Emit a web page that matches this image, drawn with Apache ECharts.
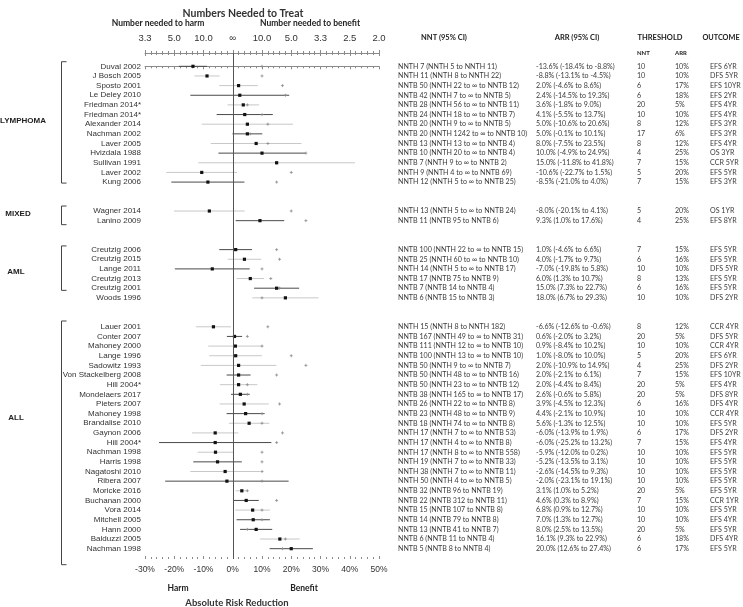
<!DOCTYPE html>
<html><head><meta charset="utf-8">
<script src="https://cdn.jsdelivr.net/npm/echarts@6/dist/echarts.min.js"></script>
<style>html,body{margin:0;padding:0;background:#fff}#c{width:743px;height:607px}</style>
</head><body><div id="c"></div><script>
// ---------------- DATA ----------------
const groupNames = ["LYMPHOMA", "MIXED", "AML", "ALL"];
const groupSizes = [13, 2, 6, 24];
const groupGap = 2;

const studies = [
 "Duval 2002","J Bosch 2005","Sposto 2001","Le Deley 2010","Friedman 2014*","Friedman 2014*","Alexander 2014","Nachman 2002","Laver 2005","Hvizdala 1988","Sullivan 1991","Laver 2002","Kung 2006",
 "Wagner 2014","Lanino 2009",
 "Creutzig 2006","Creutzig 2015","Lange 2011","Creutzig 2013","Creutzig 2001","Woods 1996",
 "Lauer 2001","Conter 2007","Mahoney 2000","Lange 1996","Sadowitz 1993","Von Stackelberg 2008","Hill 2004*","Mondelaers 2017","Pieters 2007","Mahoney 1998","Brandalise 2010","Gaynon 2006","Hill 2004*","Nachman 1998","Harris 1998","Nagatoshi 2010","Ribera 2007","Moricke 2016","Buchanan 2000","Vora 2014","Mitchell 2005","Hann 2000","Balduzzi 2005","Nachman 1998"
];
const arrEst = [-13.6,-8.8,2.0,2.4,3.6,4.1,5.0,5.0,8.0,10.0,15.0,-10.6,-8.5,
 -8.0,9.3,
 1.0,4.0,-7.0,6.0,15.0,18.0,
 -6.6,0.6,0.9,1.0,2.0,2.0,2.0,2.6,3.9,4.4,5.6,-6.0,-6.0,-5.9,-5.2,-2.6,-2.0,3.1,4.6,6.8,7.0,8.0,16.1,20.0];
const arrLo = [-18.4,-13.1,-4.6,-14.5,-1.8,-5.5,-10.6,-0.1,-7.5,-4.9,-11.8,-22.7,-21.0,
 -20.1,1.0,
 -4.6,-1.7,-19.8,1.3,7.3,6.7,
 -12.6,-2.0,-8.4,-8.0,-10.9,-2.1,-4.4,-0.6,-4.5,-2.1,-1.3,-13.9,-25.2,-12.0,-13.5,-14.5,-23.1,1.0,0.3,0.9,1.3,2.5,9.3,12.6];
const arrHi = [-8.8,-4.5,8.6,19.3,9.0,13.7,20.6,10.1,23.5,24.9,41.8,1.5,4.0,
 4.1,17.6,
 6.6,9.7,5.8,10.7,22.7,29.3,
 -0.6,3.2,10.2,10.0,14.9,6.1,8.4,5.8,12.3,10.9,12.5,1.9,13.2,0.2,3.1,9.3,19.1,5.2,8.9,12.7,12.7,13.5,22.9,27.4];
const thrNNT = [10,10,6,6,20,10,8,17,8,4,7,5,7,
 5,4,
 7,6,10,8,6,10,
 8,20,10,5,4,7,20,20,6,10,10,6,7,10,10,10,10,20,7,10,10,20,6,6];
const thrARR = [10,10,17,18,5,10,12,6,12,25,15,20,15,
 20,25,
 15,16,10,13,16,10,
 12,5,10,20,25,15,5,5,16,10,10,17,15,10,10,10,10,5,15,10,10,5,18,17];
const nntText = [
 "NNTH 7 (NNTH 5 to NNTH 11)","NNTH 11 (NNTH 8 to NNTH 22)","NNTB 50 (NNTH 22 to ∞ to NNTB 12)","NNTB 42 (NNTH 7 to ∞ to NNTB 5)","NNTB 28 (NNTH 56 to ∞ to NNTB 11)","NNTB 24 (NNTH 18 to ∞ to NNTB 7)","NNTB 20 (NNTH 9 to ∞ to NNTB 5)","NNTB 20 (NNTH 1242 to ∞ to NNTB 10)","NNTB 13 (NNTH 13 to ∞ to NNTB 4)","NNTB 10 (NNTH 20 to ∞ to NNTB 4)","NNTB 7 (NNTH 9 to ∞ to NNTB 2)","NNTH 9 (NNTH 4 to ∞ to NNTB 69)","NNTH 12 (NNTH 5 to ∞ to NNTB 25)",
 "NNTH 13 (NNTH 5 to ∞ to NNTB 24)","NNTB 11 (NNTB 95 to NNTB 6)",
 "NNTB 100 (NNTH 22 to ∞ to NNTB 15)","NNTB 25 (NNTH 60 to ∞ to NNTB 10)","NNTH 14 (NNTH 5 to ∞ to NNTB 17)","NNTB 17 (NNTB 75 to NNTB 9)","NNTB 7 (NNTB 14 to NNTB 4)","NNTB 6 (NNTB 15 to NNTB 3)",
 "NNTH 15 (NNTH 8 to NNTH 182)","NNTB 167 (NNTH 49 to ∞ to NNTB 31)","NNTB 111 (NNTH 12 to ∞ to NNTB 10)","NNTB 100 (NNTH 13 to ∞ to NNTB 10)","NNTB 50 (NNTH 9 to ∞ to NNTB 7)","NNTB 50 (NNTH 48 to ∞ to NNTB 16)","NNTB 50 (NNTH 23 to ∞ to NNTB 12)","NNTB 38 (NNTH 165 to ∞ to NNTB 17)","NNTB 26 (NNTH 22 to ∞ to NNTB 8)","NNTB 23 (NNTH 48 to ∞ to NNTB 9)","NNTB 18 (NNTH 74 to ∞ to NNTB 8)","NNTH 17 (NNTH 7 to ∞ to NNTB 53)","NNTH 17 (NNTH 4 to ∞ to NNTB 8)","NNTH 17 (NNTH 8 to ∞ to NNTB 558)","NNTH 19 (NNTH 7 to ∞ to NNTB 33)","NNTH 38 (NNTH 7 to ∞ to NNTB 11)","NNTH 50 (NNTH 4 to ∞ to NNTB 5)","NNTB 32 (NNTB 96 to NNTB 19)","NNTB 22 (NNTB 312 to NNTB 11)","NNTB 15 (NNTB 107 to NNTB 8)","NNTB 14 (NNTB 79 to NNTB 8)","NNTB 13 (NNTB 41 to NNTB 7)","NNTB 6 (NNTB 11 to NNTB 4)","NNTB 5 (NNTB 8 to NNTB 4)"
];
const outcome = ["EFS 6YR","DFS 5YR","EFS 10YR","EFS 2YR","EFS 4YR","EFS 4YR","EFS 3YR","EFS 3YR","EFS 4YR","OS 3YR","CCR 5YR","EFS 5YR","EFS 3YR",
 "OS 1YR","EFS 8YR",
 "EFS 5YR","EFS 5YR","DFS 5YR","EFS 5YR","EFS 5YR","DFS 2YR",
 "CCR 4YR","DFS 5YR","CCR 4YR","EFS 6YR","DFS 2YR","EFS 10YR","EFS 4YR","DFS 8YR","DFS 4YR","CCR 4YR","EFS 5YR","DFS 2YR","EFS 4YR","EFS 5YR","EFS 5YR","EFS 5YR","EFS 5YR","EFS 5YR","CCR 1YR","EFS 5YR","EFS 4YR","EFS 5YR","DFS 4YR","EFS 5YR"];
// CI line tone: 1 = dark, 0 = light
const ciTone = [1,0,0,1,0,1,0,1,0,1,0,0,1,
 0,1,
 1,0,1,0,1,0,
 0,1,0,0,0,1,0,1,0,1,0,0,1,0,1,0,1,0,1,0,1,1,0,1];
const arrTickValues = [-30,-20,-10,0,10,20,30,40,50];
const nntTickLabels = ["3.3","5.0","10.0","∞","10.0","5.0","3.3","2.5","2.0"];

// ---------------- LAYOUT (pixel styling only) ----------------
const bracketTopPad = [4.6, 5, 3.7, 5.8];
const bracketBottomPad = [1, 4, -7.5, 16];
const groupLabelX = [23, 18, 16, 16];
const groupLabelShift = [-3, -2, -2, -20];

const rowIndex = [];
const groupRows = [];
{
  let r = 0;
  groupSizes.forEach((n, g) => {
    groupRows.push([r, r + n - 1, g]);
    for (let j = 0; j < n; j++) rowIndex.push(r + j);
    r += n + groupGap;
  });
}
const forestData = studies.map((s, i) => [rowIndex[i], arrLo[i], arrEst[i], arrHi[i], thrARR[i], ciTone[i]]);
const textData = studies.map((s, i) => [rowIndex[i], i]);

const fmtPct = v => v.toFixed(1) + '%';
const arrText = studies.map((s, i) => `${fmtPct(arrEst[i])} (${fmtPct(arrLo[i])} to ${fmtPct(arrHi[i])})`);

const TABLE_FONT = 'Lato, "Open Sans", sans-serif';
const NAME_FONT = '"Liberation Sans", Arial, sans-serif';
const TXT = '#3a3a3a';

const chart = echarts.init(document.getElementById('c'), null, {renderer: 'canvas'});

function tx(x, y, text, opt) {
  return {type: 'text', x, y, style: Object.assign({text, fill: TXT, font: '7.1px ' + TABLE_FONT, align: 'left', verticalAlign: 'middle'}, opt || {})};
}

const xBase = {
  type: 'value', min: -30, max: 50, interval: 10,
  splitLine: {show: false}
};
const TICK = '#8a8a8a';

const option = {
  animation: false,
  backgroundColor: '#fff',
  grid: {left: 145, right: 364, top: 53, bottom: 48},
  xAxis: [
    Object.assign({}, xBase, {position: 'bottom',
      axisLine: {show: true, lineStyle: {color: TICK, width: 1}},
      axisTick: {show: true, length: 3, lineStyle: {color: TICK}},
      minorTick: {show: true, splitNumber: 5, length: 2, lineStyle: {color: TICK}},
      axisLabel: {margin: 6, color: '#333', fontSize: 8.5, fontFamily: NAME_FONT, formatter: v => v + '%'}
    }),
    Object.assign({}, xBase, {position: 'bottom',
      axisLine: {show: false},
      axisTick: {show: true, inside: true, length: 3, lineStyle: {color: TICK}},
      minorTick: {show: true, splitNumber: 5, length: 2, lineStyle: {color: TICK}},
      axisLabel: {show: false}
    }),
    Object.assign({}, xBase, {position: 'top',
      axisLine: {show: true, lineStyle: {color: TICK, width: 1}},
      axisTick: {show: true, length: 3, lineStyle: {color: TICK}},
      minorTick: {show: true, splitNumber: 5, length: 2, lineStyle: {color: TICK}},
      axisLabel: {margin: 10, color: '#333', fontSize: 9.5, fontFamily: NAME_FONT,
        formatter: v => nntTickLabels[arrTickValues.indexOf(v)] || ''}
    }),
    Object.assign({}, xBase, {position: 'top',
      axisLine: {show: false},
      axisTick: {show: true, inside: true, length: 3, lineStyle: {color: TICK}},
      minorTick: {show: true, splitNumber: 5, length: 2, lineStyle: {color: TICK}},
      axisLabel: {show: false}
    })
  ],
  yAxis: {type: 'value', inverse: true, min: -1.38, max: 51.07, show: false},
  series: [
    {
      type: 'custom', name: 'forest', xAxisIndex: 0, yAxisIndex: 0,
      data: forestData,
      encode: {x: [1, 2, 3, 4], y: 0},
      renderItem: (params, api) => {
        const row = api.value(0);
        const lo = api.coord([api.value(1), row]);
        const hi = api.coord([api.value(3), row]);
        const est = api.coord([api.value(2), row]);
        const th = api.coord([api.value(4), row]);
        const col = api.value(5) === 1 ? '#4a4a4a' : '#c8c8c8';
        return {type: 'group', children: [
          {type: 'line', shape: {x1: lo[0], y1: lo[1], x2: hi[0], y2: hi[1]}, style: {stroke: col, lineWidth: 1}},
          {type: 'line', shape: {x1: th[0] - 1.5, y1: th[1], x2: th[0] + 1.5, y2: th[1]}, style: {stroke: '#8c8c8c', lineWidth: 0.8}},
          {type: 'line', shape: {x1: th[0], y1: th[1] - 1.5, x2: th[0], y2: th[1] + 1.5}, style: {stroke: '#8c8c8c', lineWidth: 0.8}},
          {type: 'rect', shape: {x: est[0] - 1.6, y: est[1] - 1.6, width: 3.2, height: 3.2}, style: {fill: '#111'}}
        ]};
      },
      markLine: {
        silent: true, symbol: 'none', label: {show: false},
        lineStyle: {color: '#555', width: 1, type: 'solid'},
        data: [{xAxis: 0}]
      },
      z: 3
    },
    {
      type: 'custom', name: 'table', xAxisIndex: 0, yAxisIndex: 0,
      data: textData, clip: false,
      encode: {y: 0},
      renderItem: (params, api) => {
        const i = api.value(1);
        const y = api.coord([0, api.value(0)])[1];
        return {type: 'group', children: [
          tx(141, y, studies[i], {align: 'right', font: '8px ' + NAME_FONT, fill: '#333'}),
          tx(398, y, nntText[i]),
          tx(536, y, arrText[i]),
          tx(637, y, String(thrNNT[i])),
          tx(675, y, thrARR[i] + '%'),
          tx(710, y, outcome[i])
        ]};
      }
    },
    {
      type: 'custom', name: 'groups', xAxisIndex: 0, yAxisIndex: 0,
      data: groupRows, clip: false,
      encode: {y: [0, 1]},
      renderItem: (params, api) => {
        const g = api.value(2);
        const yFirst = api.coord([0, api.value(0)])[1];
        const yLast = api.coord([0, api.value(1)])[1];
        const y1 = yFirst - bracketTopPad[g];
        const y2 = yLast + bracketBottomPad[g];
        const xb = 61.5;
        return {type: 'group', children: [
          {type: 'polyline', shape: {points: [[xb + 5, y1], [xb, y1], [xb, y2], [xb + 5, y2]]}, style: {stroke: '#444', lineWidth: 1, fill: null}},
          tx(groupLabelX[g], (yFirst + yLast) / 2 + groupLabelShift[g], groupNames[g], {align: 'center', font: 'bold 8px ' + NAME_FONT, fill: '#222'})
        ]};
      }
    }
  ],
  graphic: [
    {type: 'text', x: 243, y: 14, style: {text: 'Numbers Needed to Treat', font: 'bold 10.5px ' + TABLE_FONT, fill: '#333', align: 'center', verticalAlign: 'middle'}},
    {type: 'text', x: 158, y: 23, style: {text: 'Number needed to harm', font: 'bold 8.5px ' + TABLE_FONT, fill: '#222', align: 'center', verticalAlign: 'middle'}},
    {type: 'text', x: 310, y: 23, style: {text: 'Number needed to benefit', font: 'bold 8.5px ' + TABLE_FONT, fill: '#222', align: 'center', verticalAlign: 'middle'}},
    {type: 'text', x: 178, y: 588, style: {text: 'Harm', font: 'bold 8.5px ' + TABLE_FONT, fill: '#222', align: 'center', verticalAlign: 'middle'}},
    {type: 'text', x: 304, y: 588, style: {text: 'Benefit', font: 'bold 8.5px ' + TABLE_FONT, fill: '#222', align: 'center', verticalAlign: 'middle'}},
    {type: 'text', x: 237, y: 603, style: {text: 'Absolute Risk Reduction', font: 'bold 9.5px ' + TABLE_FONT, fill: '#333', align: 'center', verticalAlign: 'middle'}},
    {type: 'text', x: 444, y: 38, style: {text: 'NNT (95% CI)', font: 'bold 7.5px ' + TABLE_FONT, fill: '#222', align: 'center', verticalAlign: 'middle'}},
    {type: 'text', x: 577, y: 38, style: {text: 'ARR (95% CI)', font: 'bold 7.5px ' + TABLE_FONT, fill: '#222', align: 'center', verticalAlign: 'middle'}},
    {type: 'text', x: 660, y: 38, style: {text: 'THRESHOLD', font: 'bold 7.5px ' + TABLE_FONT, fill: '#222', align: 'center', verticalAlign: 'middle'}},
    {type: 'text', x: 721, y: 38, style: {text: 'OUTCOME', font: 'bold 7.3px ' + TABLE_FONT, fill: '#222', align: 'center', verticalAlign: 'middle'}},
    {type: 'text', x: 637, y: 53, style: {text: 'NNT', font: 'bold 6px ' + TABLE_FONT, fill: '#222', align: 'left', verticalAlign: 'middle'}},
    {type: 'text', x: 675, y: 53, style: {text: 'ARR', font: 'bold 6px ' + TABLE_FONT, fill: '#222', align: 'left', verticalAlign: 'middle'}}
  ]
};
chart.setOption(option);
</script></body></html>
